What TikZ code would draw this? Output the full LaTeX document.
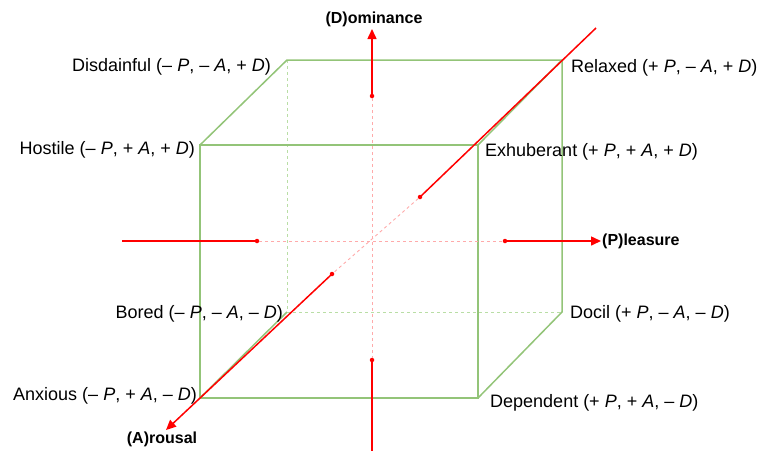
\documentclass[tikz,border=0pt]{standalone}
\usepackage{fontspec}
\setmainfont{Liberation Sans}
\usetikzlibrary{arrows.meta}
\definecolor{cubegreen}{RGB}{147,196,120}
\definecolor{lightgreen}{RGB}{185,222,165}
\definecolor{axisred}{RGB}{255,0,0}
\definecolor{pinkred}{RGB}{255,170,170}
\tikzset{
  edge/.style={cubegreen, line width=1.5pt},
  hidden/.style={lightgreen, line width=0.9pt, dash pattern=on 3pt off 3pt},
  axis/.style={axisred, line width=1.5pt},
  faint/.style={pinkred, line width=0.9pt, dash pattern=on 3pt off 3pt},
  tip/.style={-{Triangle[length=10pt,width=9pt]}},
  dotmark/.style={circle, fill=axisred, inner sep=0pt, minimum size=4.5pt},
  lab/.style={inner sep=0pt, font=\fontsize{18}{20}\selectfont},
  axlab/.style={inner sep=0pt, font=\fontsize{16}{18}\selectfont\bfseries}
}
\begin{document}
\begin{tikzpicture}[x=1pt,y=-1pt]
\useasboundingbox (0,0) rectangle (757,451);
% cube corners
\coordinate (HTL) at (200,145);
\coordinate (HTR) at (478,145);
\coordinate (HBL) at (200,398);
\coordinate (HBR) at (478,398);
\coordinate (BTL) at (287,60);
\coordinate (BTR) at (562,60);
\coordinate (BBL) at (287,312);
\coordinate (BBR) at (562,312);
% hidden edges
\draw[hidden] (BTL) -- (BBL) -- (BBR);
% visible edges
\draw[edge] (HTL) -- (HTR) -- (HBR) -- (HBL) -- cycle;
\draw[edge] (HTL) -- (BTL) -- (BTR) -- (BBR) -- (HBR);
\draw[edge] (HTR) -- (BTR);
\draw[edge] (HBL) -- (BBL);
% axis points
\coordinate (C) at (372,241);
\coordinate (Lend) at (122,241);
\node[dotmark] (Ldot) at (257,241) {};
\node[dotmark] (Rdot) at (505,241) {};
\coordinate (Rtip) at (601,241);
\node[dotmark] (Tdot) at (372,96) {};
\coordinate (Ttip) at (372,29);
\node[dotmark] (Bdot) at (372,360) {};
\coordinate (Bend) at (372,451);
\coordinate (Dend) at (596,28);
\node[dotmark] (D1) at (420,197) {};
\node[dotmark] (D2) at (332,274) {};
\coordinate (Dtip) at (166,430);
% faint dashed parts
\draw[faint] (Ldot) -- (Rdot);
\draw[faint] (Tdot) -- (Bdot);
\draw[faint] (D1) -- (D2);
% solid axis parts
\draw[axis] (Lend) -- (Ldot.center);
\draw[axis,tip] (Rdot.center) -- (Rtip);
\draw[axis,tip] (Tdot.center) -- (Ttip);
\draw[axis] (Bdot.center) -- (Bend);
\draw[axis] (Dend) -- (D1.center);
\draw[axis,tip] (D2.center) -- (Dtip);
% axis labels
\node[axlab, anchor=west] (pleasure) at (602,241) {(P)leasure};
\node[axlab] (dominance) at (374,19) {(D)ominance};
\node[axlab] (arousal) at (162,439) {(A)rousal};
% corner labels
\node[lab, anchor=base east] (disdainful) at (271,71) {Disdainful (– \textit{P}, – \textit{A}, + \textit{D})};
\node[lab, anchor=base east] (hostile) at (195,154) {Hostile (– \textit{P}, + \textit{A}, + \textit{D})};
\node[lab, anchor=base west] (relaxed) at (571,72) {Relaxed (+ \textit{P}, – \textit{A}, + \textit{D})};
\node[lab, anchor=base west] (exhuberant) at (485,156) {Exhuberant (+ \textit{P}, + \textit{A}, + \textit{D})};
\node[lab, anchor=base east] (bored) at (283,318) {Bored (– \textit{P}, – \textit{A}, – \textit{D})};
\node[lab, anchor=base west] (docil) at (570,318) {Docil (+ \textit{P}, – \textit{A}, – \textit{D})};
\node[lab, anchor=base east] (anxious) at (197,400) {Anxious (– \textit{P}, + \textit{A}, – \textit{D})};
\node[lab, anchor=base west] (dependent) at (490,407) {Dependent (+ \textit{P}, + \textit{A}, – \textit{D})};
\end{tikzpicture}
\end{document}
